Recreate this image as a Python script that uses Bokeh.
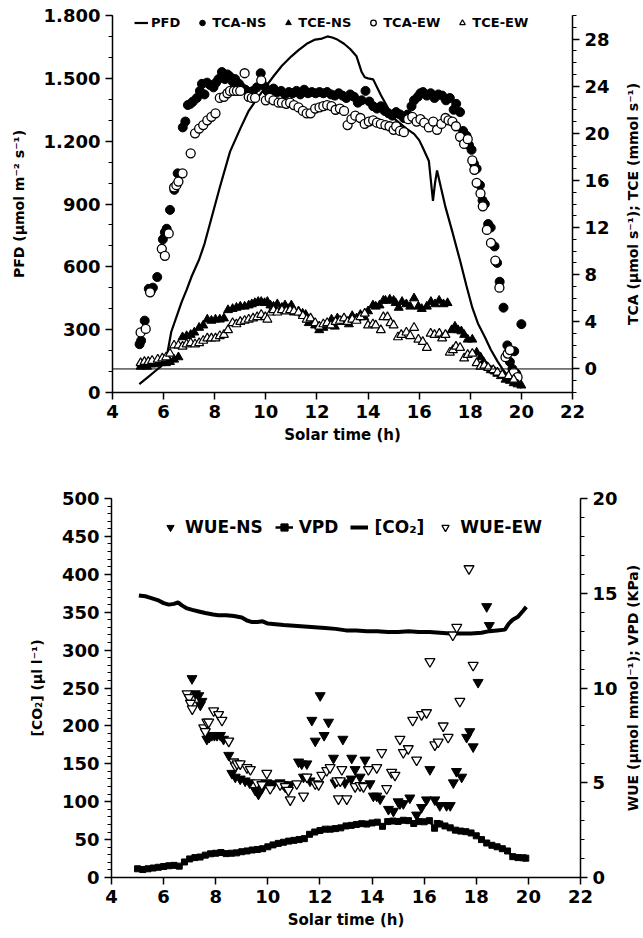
from bokeh.plotting import figure
from bokeh.models import Range1d, LinearAxis, FixedTicker, Legend, LegendItem, Span
from bokeh.layouts import column, row
from bokeh.embed import file_html
from bokeh.resources import INLINE

FONT = "DejaVu Sans"

# ---------------- tick data ----------------
x_ticks = [4, 6, 8, 10, 12, 14, 16, 18, 20, 22]
pfd_ticks = [0, 300, 600, 900, 1200, 1500, 1800]
pfd_tick_labels = ["0", "300", "600", "900", "1.200", "1.500", "1.800"]
tc_ticks = [0, 4, 8, 12, 16, 20, 24, 28]
co2_ticks = [0, 50, 100, 150, 200, 250, 300, 350, 400, 450, 500]
wue_ticks = [0, 5, 10, 15, 20]

# ---------------- top panel data ----------------
pfd = [(5.05, 40), (5.4, 75), (5.7, 105), (5.9, 125), (6.05, 150), (6.15, 190), (6.3, 290),
       (6.5, 360), (6.7, 430), (6.9, 490), (7.1, 555), (7.39, 635), (7.6, 710), (7.8, 800),
       (8.2, 980), (8.6, 1150), (9.0, 1260), (9.33, 1345), (9.7, 1410), (10.0, 1460),
       (10.3, 1510), (10.63, 1560), (11.0, 1605), (11.28, 1635), (11.6, 1665), (11.93, 1685),
       (12.2, 1690), (12.41, 1700), (12.6, 1695), (12.8, 1685), (13.06, 1665), (13.3, 1640),
       (13.55, 1605), (13.75, 1530), (13.87, 1505), (14.0, 1500), (14.2, 1495), (14.5, 1420),
       (14.84, 1345), (15.0, 1310), (15.25, 1285), (15.5, 1260), (15.8, 1235), (16.0, 1205),
       (16.14, 1170), (16.38, 1105), (16.54, 915), (16.62, 1000), (16.7, 1060), (16.85, 980),
       (17.03, 885), (17.27, 780), (17.6, 630), (17.85, 510), (18.08, 405), (18.3, 330),
       (18.57, 265), (18.8, 205), (19.06, 150), (19.3, 105), (19.54, 70), (19.8, 40), (20.0, 22)]

tca_ns = [(5.06, 2.1), (5.12, 2.4), (5.26, 4.1), (5.42, 6.8), (5.5, 6.6), (5.58, 6.9), (5.75, 7.8),
          (5.97, 11.0), (6.05, 11.6), (6.12, 11.9), (6.25, 13.5), (6.42, 15.2), (6.55, 16.6),
          (6.75, 20.5), (6.85, 21.0), (6.95, 22.4), (7.05, 22.5), (7.15, 22.7), (7.3, 23.0),
          (7.42, 23.6), (7.5, 24.2), (7.6, 23.3), (7.7, 24.3), (7.82, 24.1), (7.95, 23.9),
          (8.05, 24.3), (8.15, 24.6), (8.28, 25.2), (8.4, 24.6), (8.5, 25.0), (8.6, 24.8),
          (8.7, 24.4), (8.8, 24.6), (8.95, 24.2), (9.05, 23.9), (9.2, 23.7), (9.35, 23.5),
          (9.5, 23.6), (9.65, 23.9), (9.8, 25.1), (9.95, 24.0), (10.05, 23.6), (10.15, 23.4),
          (10.3, 23.8), (10.45, 23.5), (10.6, 23.6), (10.75, 23.3), (10.9, 23.5), (11.05, 23.4),
          (11.2, 23.6), (11.35, 23.3), (11.5, 23.7), (11.65, 23.4), (11.8, 23.5), (11.95, 23.4),
          (12.1, 23.5), (12.25, 23.4), (12.4, 23.5), (12.55, 23.3), (12.7, 23.2), (12.85, 23.4),
          (13.0, 23.2), (13.15, 23.0), (13.3, 23.3), (13.45, 23.1), (13.6, 22.6), (13.75, 22.8),
          (13.9, 23.6), (14.05, 22.7), (14.2, 22.3), (14.35, 22.1), (14.5, 22.3), (14.65, 21.9),
          (14.8, 21.7), (14.95, 21.5), (15.1, 21.8), (15.25, 21.6), (15.4, 21.3), (15.55, 21.6),
          (15.7, 22.3), (15.8, 22.8), (15.95, 23.1), (16.05, 23.4), (16.15, 23.5), (16.3, 23.2),
          (16.45, 23.4), (16.6, 23.0), (16.75, 23.3), (16.9, 23.2), (17.05, 22.8), (17.2, 23.0),
          (17.35, 22.0), (17.45, 22.5), (17.6, 21.8), (17.72, 20.2), (17.85, 19.8), (17.95, 19.0),
          (18.05, 18.6), (18.15, 17.4), (18.25, 17.0), (18.38, 15.6), (18.48, 14.3), (18.57, 14.0),
          (18.7, 12.3), (18.8, 12.0), (18.95, 10.4), (19.05, 9.0), (19.15, 7.4), (19.3, 5.2),
          (19.45, 2.0), (19.55, 0.6), (19.65, 0.0), (19.72, 1.5), (19.8, -0.4), (20.0, 3.8)]

tca_ew = [(5.1, 3.1), (5.3, 3.4), (5.47, 6.5), (5.93, 10.2), (6.05, 9.6), (6.2, 11.5),
          (6.41, 15.4), (6.5, 15.6), (6.58, 15.9), (6.74, 16.6), (7.06, 18.3), (7.23, 20.0),
          (7.39, 20.4), (7.55, 20.7), (7.71, 21.1), (7.87, 21.4), (8.03, 21.7), (8.2, 23.0),
          (8.36, 23.1), (8.5, 23.4), (8.6, 23.6), (8.75, 23.6), (8.87, 23.6), (9.0, 23.6),
          (9.17, 25.1), (9.33, 23.1), (9.45, 23.0), (9.58, 23.0), (9.82, 24.5), (10.0, 22.8),
          (10.15, 23.0), (10.3, 22.8), (10.5, 22.6), (10.63, 22.6), (10.8, 22.5), (10.95, 22.6),
          (11.1, 22.4), (11.28, 22.2), (11.45, 21.9), (11.6, 21.7), (11.75, 21.7), (11.93, 22.1),
          (12.1, 22.2), (12.25, 22.3), (12.4, 22.4), (12.57, 22.3), (12.73, 22.0), (12.9, 22.1),
          (13.06, 21.9), (13.2, 20.7), (13.35, 21.2), (13.5, 21.5), (13.7, 21.3), (13.87, 20.8),
          (14.03, 21.0), (14.2, 21.1), (14.35, 20.9), (14.5, 20.8), (14.68, 20.7), (14.84, 20.6),
          (15.0, 20.3), (15.1, 20.6), (15.25, 20.2), (15.4, 20.1), (15.57, 21.2), (15.73, 21.4),
          (15.9, 21.0), (16.05, 21.2), (16.2, 20.9), (16.38, 20.5), (16.55, 21.0), (16.7, 20.3),
          (16.87, 20.8), (17.03, 21.3), (17.15, 21.1), (17.3, 21.0), (17.44, 20.6), (17.6, 19.7),
          (17.76, 19.1), (17.9, 19.5), (18.08, 17.7), (18.16, 16.9), (18.25, 15.8), (18.4, 14.9),
          (18.49, 13.8), (18.65, 11.8), (18.81, 10.7), (18.98, 9.2), (19.14, 6.9), (19.38, 1.0),
          (19.46, 1.3), (19.55, 1.6), (19.7, -0.3), (19.85, -0.7)]

tce_ns = [(5.1, 0.2), (5.2, 0.3), (5.35, 0.2), (5.5, 0.4), (5.65, 0.4), (5.77, 0.5), (5.9, 0.5),
          (6.09, 0.5), (6.25, 0.6), (6.41, 0.8), (6.58, 1.0), (6.74, 2.7), (6.9, 2.8), (7.06, 2.9),
          (7.2, 3.1), (7.39, 3.5), (7.55, 3.7), (7.71, 4.2), (7.87, 4.1), (8.03, 4.2), (8.2, 4.2),
          (8.36, 4.3), (8.52, 5.0), (8.7, 5.1), (8.85, 5.2), (9.0, 5.3), (9.17, 5.3), (9.33, 5.4),
          (9.45, 5.5), (9.57, 5.6), (9.7, 5.7), (9.82, 5.7), (9.95, 5.6), (10.06, 5.7), (10.18, 5.4),
          (10.3, 5.3), (10.45, 5.5), (10.63, 5.2), (10.75, 5.4), (10.87, 5.1), (11.0, 5.4),
          (11.1, 4.8), (11.28, 4.9), (11.44, 4.7), (11.56, 4.6), (11.68, 3.9), (11.8, 4.1),
          (11.93, 3.7), (12.09, 3.3), (12.25, 3.5), (12.4, 3.7), (12.57, 4.2), (12.7, 3.6),
          (12.8, 4.3), (12.95, 4.0), (13.1, 4.1), (13.25, 3.8), (13.38, 4.5), (13.55, 4.3),
          (13.7, 4.6), (13.85, 4.4), (14.0, 4.9), (14.19, 5.4), (14.3, 5.3), (14.45, 5.4),
          (14.6, 5.8), (14.68, 5.8), (14.85, 5.9), (15.0, 5.8), (15.08, 5.6), (15.2, 5.2),
          (15.33, 5.7), (15.5, 5.5), (15.65, 5.3), (15.8, 6.0), (15.97, 5.3), (16.1, 5.1),
          (16.3, 5.3), (16.46, 5.7), (16.62, 5.5), (16.78, 5.8), (16.95, 5.5), (17.11, 5.6),
          (17.27, 3.3), (17.4, 3.6), (17.52, 3.3), (17.65, 3.2), (17.76, 2.9), (17.9, 2.5),
          (18.08, 2.5), (18.25, 1.4), (18.4, 1.0), (18.52, 0.6), (18.65, 0.2), (18.8, -0.1),
          (18.95, -0.2), (19.06, -0.4), (19.2, -0.6), (19.38, -0.9), (19.55, -1.0), (19.7, -1.2),
          (19.85, -1.3), (20.0, -1.4)]

tce_ew = [(5.1, 0.5), (5.25, 0.6), (5.4, 0.6), (5.55, 0.7), (5.77, 0.8), (5.95, 0.9), (6.1, 1.0),
          (6.25, 1.3), (6.41, 2.0), (6.58, 2.0), (6.74, 1.9), (6.9, 2.1), (7.06, 2.2), (7.23, 2.1),
          (7.39, 2.2), (7.55, 2.4), (7.71, 2.6), (7.87, 2.6), (8.03, 2.6), (8.2, 2.8), (8.36, 2.9),
          (8.52, 3.3), (8.7, 3.9), (8.85, 3.8), (9.0, 4.0), (9.17, 4.1), (9.33, 4.2), (9.5, 4.3),
          (9.66, 4.4), (9.82, 4.6), (9.98, 4.4), (10.06, 4.2), (10.2, 4.8), (10.3, 5.0),
          (10.45, 4.8), (10.63, 5.0), (10.8, 4.9), (10.95, 5.0), (11.1, 4.9), (11.28, 4.8),
          (11.45, 4.5), (11.6, 4.2), (11.75, 4.3), (11.93, 3.9), (12.09, 3.6), (12.25, 3.8),
          (12.4, 3.9), (12.55, 3.7), (12.73, 4.0), (12.9, 4.1), (13.06, 4.3), (13.2, 4.0),
          (13.38, 4.2), (13.55, 4.1), (13.7, 4.4), (13.87, 4.7), (14.0, 3.7), (14.19, 3.8),
          (14.3, 3.7), (14.5, 3.3), (14.6, 4.4), (14.76, 4.4), (14.88, 3.9), (15.0, 3.7),
          (15.17, 2.7), (15.3, 2.9), (15.5, 3.1), (15.65, 2.8), (15.8, 3.5), (15.97, 2.5),
          (16.14, 2.3), (16.3, 1.8), (16.45, 3.0), (16.6, 2.9), (16.79, 3.0), (16.9, 2.6),
          (17.03, 2.9), (17.2, 1.4), (17.32, 1.6), (17.44, 1.9), (17.6, 1.8), (17.76, 0.9),
          (17.9, 1.2), (18.08, 1.3), (18.25, 0.5), (18.4, 0.2), (18.55, 0.3), (18.7, 0.1),
          (18.9, -0.1), (19.06, -0.3), (19.25, -0.5), (19.5, -0.6), (19.7, -0.9)]

# ---------------- bottom panel data ----------------
co2 = [(5.05, 372), (5.3, 371), (5.5, 369), (5.77, 366), (6.0, 362), (6.2, 360), (6.4, 361),
       (6.55, 363), (6.7, 359), (6.9, 355), (7.1, 353), (7.35, 351), (7.6, 349), (7.9, 347),
       (8.1, 346), (8.4, 346), (8.7, 345), (9.0, 343), (9.2, 339), (9.4, 337), (9.6, 337),
       (9.8, 338), (10.0, 335), (10.3, 334), (10.6, 333), (11.0, 332), (11.4, 331), (11.8, 330),
       (12.2, 329), (12.6, 328), (13.0, 326), (13.4, 326), (13.8, 325), (14.2, 325), (14.6, 324),
       (15.0, 324), (15.4, 325), (15.8, 324), (16.2, 324), (16.6, 323), (17.0, 322), (17.4, 322),
       (17.8, 322), (18.2, 323), (18.5, 325), (18.8, 326), (19.1, 327), (19.25, 335), (19.4, 340),
       (19.6, 344), (19.8, 352), (19.92, 357)]

vpd = [(5.0, 0.46), (5.2, 0.42), (5.4, 0.46), (5.6, 0.5), (5.8, 0.54), (6.0, 0.58), (6.2, 0.62),
       (6.4, 0.64), (6.6, 0.6), (6.8, 0.82), (7.0, 0.98), (7.2, 1.05), (7.4, 1.08), (7.6, 1.18),
       (7.8, 1.25), (8.0, 1.28), (8.2, 1.32), (8.4, 1.26), (8.6, 1.28), (8.8, 1.3), (9.0, 1.36),
       (9.2, 1.4), (9.4, 1.45), (9.6, 1.48), (9.8, 1.52), (10.0, 1.62), (10.2, 1.72), (10.4, 1.8),
       (10.6, 1.86), (10.8, 1.92), (11.0, 1.96), (11.2, 2.0), (11.4, 2.05), (11.6, 2.28),
       (11.8, 2.4), (12.0, 2.48), (12.2, 2.55), (12.4, 2.55), (12.6, 2.58), (12.8, 2.62),
       (13.0, 2.72), (13.2, 2.75), (13.4, 2.8), (13.6, 2.84), (13.8, 2.82), (14.0, 2.88),
       (14.2, 2.92), (14.4, 2.7), (14.6, 2.95), (14.8, 2.98), (15.0, 2.96), (15.2, 3.02),
       (15.4, 3.0), (15.6, 2.85), (15.8, 2.95), (16.0, 2.94), (16.2, 3.0), (16.4, 2.6),
       (16.5, 2.85), (16.6, 2.82), (16.8, 2.72), (17.0, 2.62), (17.2, 2.5), (17.4, 2.45),
       (17.6, 2.42), (17.8, 2.35), (18.0, 2.2), (18.2, 2.0), (18.4, 1.82), (18.6, 1.7),
       (18.8, 1.62), (19.0, 1.52), (19.2, 1.4), (19.4, 1.1), (19.6, 1.05), (19.8, 1.04),
       (19.9, 1.02)]

wue_ns = [(7.09, 10.5), (7.22, 9.7), (7.35, 9.6), (7.41, 9.1), (7.47, 9.3), (7.66, 7.3),
          (7.75, 7.4), (7.85, 7.5), (7.95, 7.5), (8.05, 7.5), (8.18, 7.5), (8.3, 7.3), (8.5, 6.45),
          (8.62, 5.5), (8.75, 5.3), (8.94, 5.2), (9.13, 5.1), (9.3, 5.0), (9.52, 4.6), (9.64, 4.4),
          (9.77, 4.7), (9.96, 5.0), (10.09, 4.9), (10.22, 4.95), (10.47, 5.0), (10.6, 4.9),
          (10.73, 4.8), (10.86, 4.9), (11.18, 6.1), (11.3, 6.0), (11.37, 5.3), (11.5, 6.0),
          (11.62, 5.1), (11.69, 8.3), (11.82, 7.2), (12.01, 9.6), (12.16, 7.5), (12.33, 8.2),
          (12.52, 6.3), (12.58, 5.0), (12.88, 7.3), (12.96, 5.0), (13.22, 6.3), (13.2, 5.2),
          (13.35, 5.7), (13.54, 5.3), (13.73, 6.2), (13.92, 4.95), (14.05, 4.3), (14.18, 4.3),
          (14.31, 4.15), (14.63, 3.6), (14.82, 3.5), (15.0, 4.0), (15.07, 3.9), (15.2, 3.9),
          (15.45, 4.2), (15.71, 3.3), (15.9, 3.7), (16.09, 4.1), (16.22, 5.7), (16.41, 4.1),
          (16.6, 3.8), (16.86, 3.8), (17.0, 3.8), (17.12, 5.0), (17.24, 5.6), (17.44, 5.3),
          (17.63, 7.4), (17.75, 7.7), (17.88, 6.9), (18.07, 10.3), (18.4, 14.3), (18.5, 13.3)]

wue_ew = [(6.9, 9.7), (6.98, 9.5), (7.03, 9.2), (7.1, 8.9), (7.54, 7.9), (7.6, 7.7), (7.66, 8.2),
          (7.73, 8.2), (7.92, 8.8), (8.11, 8.6), (8.24, 8.3), (8.5, 7.2), (8.69, 6.1), (8.75, 5.9),
          (8.82, 6.0), (8.94, 6.0), (9.2, 5.8), (9.33, 5.7), (9.58, 5.0), (9.77, 4.9), (9.96, 5.5),
          (10.09, 4.7), (10.47, 4.9), (10.67, 4.8), (10.79, 4.6), (10.86, 4.1), (11.11, 4.95),
          (11.37, 4.3), (11.5, 5.3), (11.82, 4.95), (11.95, 4.9), (12.07, 5.4), (12.26, 5.65),
          (12.39, 5.8), (12.65, 5.1), (12.71, 4.15), (12.78, 5.1), (12.84, 5.7), (13.03, 4.15),
          (13.35, 4.8), (13.54, 4.85), (13.67, 4.8), (13.86, 5.7), (14.18, 5.8), (14.37, 6.6),
          (14.56, 4.7), (14.75, 5.55), (14.88, 5.4), (15.07, 7.3), (15.2, 6.6), (15.39, 6.8),
          (15.56, 8.3), (15.71, 6.2), (15.9, 8.6), (16.09, 8.7), (16.22, 11.4), (16.41, 7.0),
          (16.54, 7.15), (16.73, 8.0), (16.92, 7.4), (17.1, 12.8), (17.25, 13.2), (17.37, 9.3),
          (17.72, 16.3), (17.88, 11.2)]

top_right_label = "TCA (µmol s⁻¹); TCE (mmol s⁻¹)"
bottom_right_label = "WUE (µmol mmol⁻¹); VPD (KPa)"


def split(pairs):
    return [p[0] for p in pairs], [p[1] for p in pairs]


def style_axis(ax, major, minor, label_size="18px"):
    ax.ticker = FixedTicker(ticks=major, minor_ticks=minor)
    ax.axis_line_width = 1.5
    ax.axis_line_color = "black"
    ax.major_tick_line_width = 1.5
    ax.major_tick_line_color = "black"
    ax.minor_tick_line_width = 1
    ax.minor_tick_line_color = "black" if minor else None
    ax.major_tick_out = 7
    ax.major_tick_in = 0
    ax.minor_tick_out = 4
    ax.minor_tick_in = 0
    ax.major_label_text_font = FONT
    ax.major_label_text_font_style = "bold"
    ax.major_label_text_font_size = label_size
    ax.major_label_text_color = "black"
    ax.major_label_standoff = 5
    ax.axis_label_text_font = FONT
    ax.axis_label_text_font_style = "bold"
    ax.axis_label_text_font_size = "14px"
    ax.axis_label_text_color = "black"


def base_fig(yr, fw, fh, bl, br, bt, bb):
    p = figure(frame_width=fw, frame_height=fh, x_range=Range1d(4, 22), y_range=yr,
               output_backend="svg", toolbar_location=None,
               min_border_left=bl, min_border_right=br, min_border_top=bt, min_border_bottom=bb)
    p.outline_line_color = None
    p.xgrid.visible = False
    p.ygrid.visible = False
    p.background_fill_color = "white"
    p.border_fill_color = "white"
    return p


def title_strip(text, fh, bl, bt, bb):
    # narrow companion figure whose only content is a bottom-to-top axis title
    q = figure(frame_width=2, frame_height=fh, x_range=Range1d(0, 1), y_range=Range1d(0, 1),
               output_backend="svg", toolbar_location=None, x_axis_location=None,
               min_border_left=bl, min_border_right=1, min_border_top=bt, min_border_bottom=bb)
    q.outline_line_color = None
    q.xgrid.visible = False
    q.ygrid.visible = False
    q.border_fill_color = "white"
    q.background_fill_color = "white"
    ax = q.yaxis[0]
    ax.axis_label = text
    ax.ticker = FixedTicker(ticks=[])
    ax.axis_line_color = None
    ax.major_tick_line_color = None
    ax.minor_tick_line_color = None
    ax.major_tick_out = 0
    ax.minor_tick_out = 0
    ax.major_label_standoff = 0
    ax.axis_label_standoff = 0
    ax.axis_label_text_font = FONT
    ax.axis_label_text_font_style = "bold"
    ax.axis_label_text_font_size = "14px"
    ax.axis_label_text_color = "black"
    return q


def style_legend(lg, size, gw, gh, spacing, standoff):
    lg.orientation = "horizontal"
    lg.border_line_color = None
    lg.background_fill_alpha = 0
    lg.padding = 0
    lg.margin = 0
    lg.spacing = spacing
    lg.label_standoff = standoff
    lg.glyph_width = gw
    lg.glyph_height = gh
    lg.label_height = gh
    lg.label_width = 10
    lg.label_text_font = FONT
    lg.label_text_font_style = "bold"
    lg.label_text_font_size = size
    lg.label_text_color = "black"
    lg.label_text_baseline = "middle"


# ================= TOP PANEL =================
p1 = base_fig(Range1d(0, 1800), 460, 377, 112, 40, 15, 60)
p1.extra_y_ranges = {"tc": Range1d(-2, 30)}

p1.xaxis.axis_label = "Solar time (h)"
style_axis(p1.xaxis[0], x_ticks, [])
p1.xaxis[0].axis_label_text_font_size = "15px"
p1.yaxis.axis_label = "PFD (µmol m⁻² s⁻¹)"
style_axis(p1.yaxis[0], pfd_ticks, list(range(0, 1801, 100)))
p1.yaxis[0].major_label_overrides = {t: l for t, l in zip(pfd_ticks, pfd_tick_labels)}
p1.yaxis[0].axis_label_standoff = 14

rax1 = LinearAxis(y_range_name="tc")
style_axis(rax1, tc_ticks, list(range(-2, 31)))
p1.add_layout(rax1, "right")

p1.add_layout(Span(location=0, dimension="width", y_range_name="tc",
                   line_color="black", line_width=1))

t, v = split(pfd)
r_pfd = p1.line(t, v, line_color="black", line_width=2.2)
t, v = split(tca_ns)
r_tca_ns = p1.scatter(t, v, y_range_name="tc", marker="circle", size=9,
                      fill_color="black", line_color="black")
t, v = split(tca_ew)
r_tca_ew = p1.scatter(t, v, y_range_name="tc", marker="circle", size=9,
                      fill_color="white", line_color="black", line_width=1.3)
t, v = split(tce_ns)
r_tce_ns = p1.scatter(t, v, y_range_name="tc", marker="triangle", size=9,
                      fill_color="black", line_color="black")
t, v = split(tce_ew)
r_tce_ew = p1.scatter(t, v, y_range_name="tc", marker="triangle", size=9,
                      fill_color="white", line_color="black", line_width=1.2)

leg1 = Legend(items=[LegendItem(label="PFD", renderers=[r_pfd]),
                     LegendItem(label="TCA-NS", renderers=[r_tca_ns]),
                     LegendItem(label="TCE-NS", renderers=[r_tce_ns]),
                     LegendItem(label="TCA-EW", renderers=[r_tca_ew]),
                     LegendItem(label="TCE-EW", renderers=[r_tce_ew])],
              location=(22, 362))
style_legend(leg1, "13px", 14, 15, 15, 3)
p1.add_layout(leg1)

q1 = title_strip(top_right_label, 377, 28, 15, 60)

# ================= BOTTOM PANEL =================
p2 = base_fig(Range1d(0, 500), 469, 379, 111, 40, 46, 53)
p2.extra_y_ranges = {"wue": Range1d(0, 20)}

p2.xaxis.axis_label = "Solar time (h)"
style_axis(p2.xaxis[0], x_ticks, [])
p2.xaxis[0].axis_label_text_font_size = "15px"
p2.yaxis.axis_label = "[CO₂] (µl l⁻¹)"
style_axis(p2.yaxis[0], co2_ticks, list(range(0, 501, 10)))
p2.yaxis[0].axis_label_standoff = 14

rax2 = LinearAxis(y_range_name="wue")
style_axis(rax2, wue_ticks, list(range(0, 21)))
p2.add_layout(rax2, "right")

t, v = split(co2)
r_co2 = p2.line(t, v, line_color="black", line_width=4)
t, v = split(vpd)
r_vpd_l = p2.line(t, v, y_range_name="wue", line_color="black", line_width=2.5)
r_vpd_s = p2.scatter(t, v, y_range_name="wue", marker="square", size=6,
                     fill_color="black", line_color="black")
t, v = split(wue_ns)
r_wue_ns = p2.scatter(t, v, y_range_name="wue", marker="inverted_triangle", size=10,
                      fill_color="black", line_color="black")
t, v = split(wue_ew)
r_wue_ew = p2.scatter(t, v, y_range_name="wue", marker="inverted_triangle", size=10,
                      fill_color="white", line_color="black", line_width=1.3)

leg2 = Legend(items=[LegendItem(label="WUE-NS", renderers=[r_wue_ns]),
                     LegendItem(label="VPD", renderers=[r_vpd_l, r_vpd_s]),
                     LegendItem(label="[CO₂]", renderers=[r_co2]),
                     LegendItem(label="WUE-EW", renderers=[r_wue_ew])],
              location=(50, 340))
style_legend(leg2, "17px", 18, 20, 12, 6)
p2.add_layout(leg2)

q2 = title_strip(bottom_right_label, 379, 20, 46, 53)

layout = column(row(p1, q1, spacing=0), row(p2, q2, spacing=0), spacing=0)
open("out.html", "w").write(file_html(layout, INLINE))
